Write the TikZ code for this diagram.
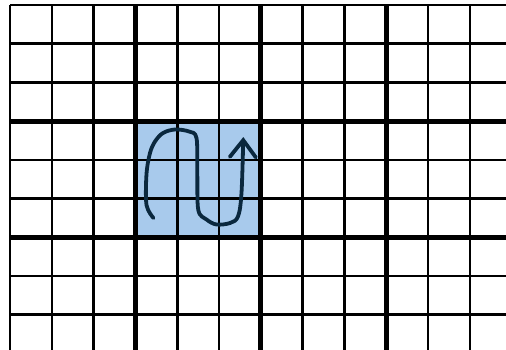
\documentclass[tikz,border=0pt]{standalone}
\usepackage{xcolor}
\definecolor{cellblue}{RGB}{168,202,236}
\definecolor{ink}{RGB}{10,40,62}
\usepackage{tikz}
\usetikzlibrary{arrows.meta}
\tikzset{
  gridline/.style={line width=2.6pt,draw=black},
  blockline/.style={line width=5pt,draw=black},
  scribble/.style={-{Straight Barb[length=17pt,width=26pt,line cap=round]},%
    line width=3.8pt,draw=ink,line cap=round,line join=round},
}

\begin{document}
\begin{tikzpicture}[x=1pt,y=-1pt]
\useasboundingbox (0,0) rectangle (506,349);
\begin{scope}
\clip (0,0) rectangle (506,349);
% highlighted block
\fill[cellblue] (135.4,121.1) rectangle (261,237.2);
% thin grid
\foreach \i in {0,...,11}
  \draw[gridline] (10+41.8*\i,5) -- (10+41.8*\i,360);
\foreach \j in {0,...,8}
  \draw[gridline] (10,5+38.7*\j) -- (520,5+38.7*\j);
% block borders
\foreach \i in {3,6,9}
  \draw[blockline] (10+41.8*\i,5) -- (10+41.8*\i,360);
\foreach \j in {3,6}
  \draw[blockline] (10,5+38.7*\j) -- (520,5+38.7*\j);
% the snake path
\draw[scribble] plot[smooth,tension=0.55] coordinates {
  (153.5,218) (146.5,205) (146.5,174) (150,153) (155,141.5) (163,133)
  (175,129.5) (189,131.5) (196.5,138) (197.3,173) (198.3,210) (206.5,219.5)
  (216.5,224.5) (230,223) (238,216.5) (241.5,193) (243.3,137)};
\end{scope}
\end{tikzpicture}
\end{document}
